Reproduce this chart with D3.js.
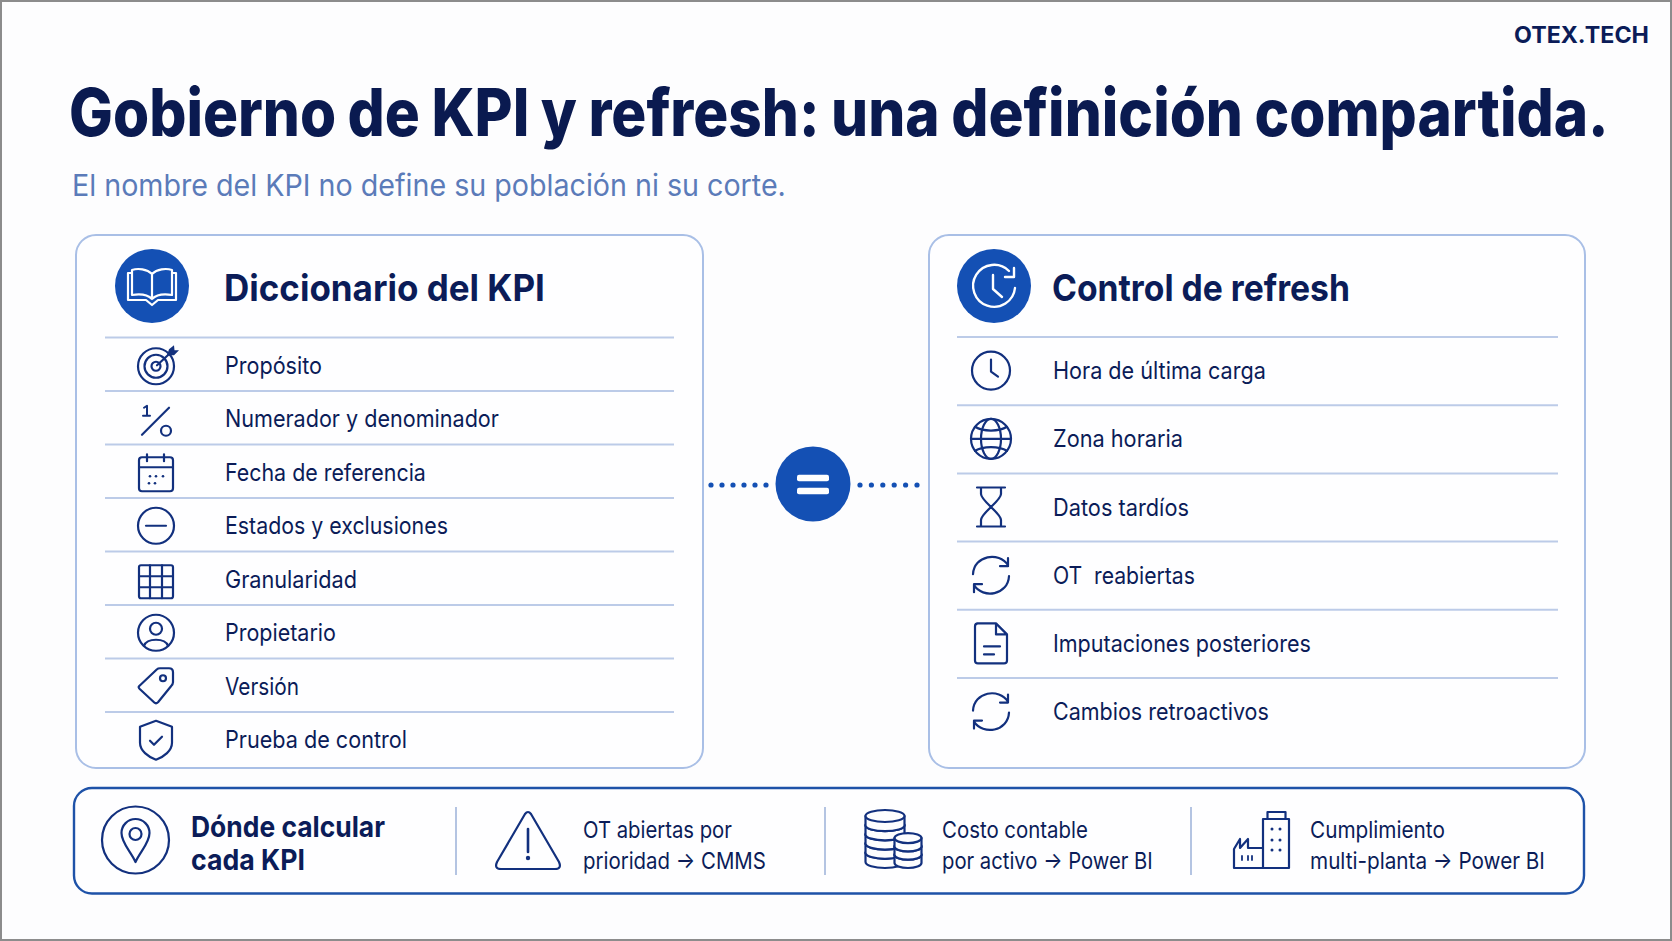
<!DOCTYPE html>
<html>
<head>
<meta charset="utf-8">
<script src="https://cdn.jsdelivr.net/npm/d3@7"></script>
<style>
  html, body { margin: 0; padding: 0; background: #fff; overflow: hidden; }
  text { font-family: Inter, "Noto Sans", sans-serif; }
</style>
</head>
<body>
<div id="slide"></div>
<script>
// texts
var brand = "OTEX.TECH";
var title = "Gobierno de KPI y refresh: una definición compartida.";
var subtitle = "El nombre del KPI no define su población ni su corte.";
var leftTitle = "Diccionario del KPI";
var rightTitle = "Control de refresh";
var leftRows = ["Propósito", "Numerador y denominador", "Fecha de referencia", "Estados y exclusiones", "Granularidad", "Propietario", "Versión", "Prueba de control"];
var leftIcons = ["target", "fraction", "calendar", "minus", "grid", "user", "tag", "shield"];
var rightRows = ["Hora de última carga", "Zona horaria", "Datos tardíos", "OT  reabiertas", "Imputaciones posteriores", "Cambios retroactivos"];
var rightIcons = ["clock", "globe", "hourglass", "sync", "doc", "sync"];
var stripHead = ["Dónde calcular", "cada KPI"];
var stripItems = [["OT abiertas por", "prioridad → CMMS"], ["Costo contable", "por activo → Power BI"], ["Cumplimiento", "multi-planta → Power BI"]];

// measured text widths in the picture, the fonts here run wider
var leftWidths = [97, 274, 201, 223, 132, 111, 74, 182];
var rightWidths = [213, 130, 136, 142, 258, 216];
var stripHeadWidths = [194, 114];
var stripWidths = [[149, 183], [146, 211], [135, 235]];

var navy = "#0b1c58", ink = "#12307e", blue = "#1450b4", rule = "#bccbe8", edge = "#a9bfe6", paper = "#fdfdfe";

var svg = d3.select("#slide").append("svg")
  .attr("width", 1672).attr("height", 941)
  .style("display", "block");

svg.append("rect").attr("x", 1).attr("y", 1).attr("width", 1670).attr("height", 939)
  .attr("fill", paper).attr("stroke", "#8c8c8c").attr("stroke-width", 2);

// squeeze the text sideways to the width it has in the picture
function label(g, str, x, y, size, weight, color, w) {
  var t = g.append("text")
    .attr("font-size", size).attr("font-weight", weight).attr("fill", color)
    .style("white-space", "pre")
    .text(str);
  return fit(t, x, y, w);
}
function fit(t, x, y, w) {
  var natural = t.node().getComputedTextLength();
  return t.attr("transform", "translate(" + x + "," + y + ") scale(" + (w / natural) + ",1)");
}

// icons are drawn round 0,0
function line(g, d, color, sw) {
  return g.append("path").attr("d", d).attr("fill", "none")
    .attr("stroke", color || ink).attr("stroke-width", sw || 2.2)
    .attr("stroke-linecap", "round").attr("stroke-linejoin", "round");
}
function ring(g, x, y, r, color, sw) {
  return g.append("circle").attr("cx", x).attr("cy", y).attr("r", r).attr("fill", "none")
    .attr("stroke", color || ink).attr("stroke-width", sw || 2.2);
}
function dot(g, x, y, r, color) {
  return g.append("circle").attr("cx", x).attr("cy", y).attr("r", r).attr("fill", color || ink);
}

var icons = {
  target: function(g) {
    ring(g, 0, 1, 18); ring(g, 0, 1, 11.5); ring(g, 0, 1, 4.5);
    line(g, "M1 0L14 -12");
    g.append("path").attr("d", "M11 -10L13 -16L18 -20L18.5 -15L23 -15L18 -10Z").attr("fill", ink);
  },
  fraction: function(g) {
    line(g, "M-14 16L13 -11");
    ring(g, 10, 12, 5);
    line(g, "M-12 -11L-9 -13V-3M-13 -3H-6", ink, 2);
  },
  calendar: function(g) {
    g.append("rect").attr("x", -17).attr("y", -15).attr("width", 34).attr("height", 34).attr("rx", 3)
      .attr("fill", "none").attr("stroke", ink).attr("stroke-width", 2.2);
    line(g, "M-17 -5H17M-9 -18V-11M8 -18V-11");
    [[-6, 4], [0, 4], [7, 4], [-7, 11], [-1, 11]].forEach(function(p) { dot(g, p[0], p[1], 1.3); });
  },
  minus: function(g) {
    ring(g, 0, 0, 18);
    line(g, "M-10 0H10");
  },
  grid: function(g) {
    g.append("rect").attr("x", -17).attr("y", -14).attr("width", 34).attr("height", 33).attr("rx", 2)
      .attr("fill", "none").attr("stroke", ink).attr("stroke-width", 2.2);
    line(g, "M-6 -14V19M6 -14V19M-17 -3H17M-17 8H17");
  },
  user: function(g) {
    ring(g, 0, 0, 18);
    ring(g, 0, -4, 6);
    line(g, "M-12 13C-9 5 9 5 12 13");
  },
  tag: function(g) {
    line(g, "M-17 0L1 -17Q2 -18 4 -18H13Q17 -18 17 -14V-4Q17 -2 15 0L2 16Q0 18 -2 16L-16 3Q-18 1 -17 0Z");
    ring(g, 7, -8, 3);
  },
  shield: function(g) {
    line(g, "M0 -19L16 -13V3C16 11 8 17 0 20C-8 17 -16 11 -16 3V-13Z");
    line(g, "M-6 1L-2 5L6 -3");
  },
  clock: function(g) {
    ring(g, 0, 0, 19);
    line(g, "M0 -11V1L7 6");
  },
  globe: function(g) {
    ring(g, 0, 0, 20);
    g.append("ellipse").attr("rx", 10).attr("ry", 20).attr("fill", "none").attr("stroke", ink).attr("stroke-width", 2.2);
    line(g, "M-20 0H20M-16 -12C-8 -7 8 -7 16 -12M-16 12C-8 7 8 7 16 12");
  },
  hourglass: function(g) {
    line(g, "M-14 -19.5H14M-14 19.5H14M-10 -19V-13C-10 -6 10 6 10 13V19M10 -19V-13C10 -6 -10 6 -10 13V19");
  },
  sync: function(g) {
    line(g, "M-18 -1C-17 -20 8 -24 17 -10M17 -17V-9H9");
    line(g, "M18 1C17 20 -8 24 -17 10M-17 17V9H-9");
  },
  doc: function(g) {
    line(g, "M-14 -20H5L16 -9V17Q16 20 13 20H-13Q-16 20 -16 17V-17Q-16 -20 -13 -20ZM5 -20V-9H16");
    line(g, "M-7 3H9M-7 11H3");
  },
  book: function(g) {
    var w = "#fff";
    line(g, "M0 -12C-5 -17 -14 -18 -20 -16V9C-14 8 -5 8 0 13C5 8 14 8 20 9V-16C14 -18 5 -17 0 -12ZM0 -12V13", w, 2.2);
    line(g, "M-20 -13H-24V14H-6L0 19L6 14H24V-13H20", w, 2.2);
  },
  refreshClock: function(g) {
    var w = "#fff";
    line(g, "M15 -15A21 21 0 1 0 21 2", w, 2.4);
    line(g, "M20 -18V-9H11", w, 2.4);
    line(g, "M-1 -11V3L8 11", w, 2.4);
  },
  pin: function(g) {
    ring(g, 0, 0, 33.5);
    line(g, "M0 22C-5 11 -14 3 -14 -7A14 14 0 0 1 14 -7C14 3 5 11 0 22Z");
    ring(g, 0, -6, 6);
  },
  warning: function(g) {
    line(g, "M-3 -26Q0 -30 3 -26L31 22Q34 29 27 29H-27Q-34 29 -31 22Z");
    line(g, "M0 -11V12", ink, 2.6);
    dot(g, 0, 18, 2.2);
  },
  coins: function(g) {
    // layers go bottom first so each one hides the back of the one below
    function stack(cx, rx, ry, base, n, h) {
      d3.range(n).forEach(function(i) {
        var bottom = base - i * h, top = bottom - h;
        g.append("path")
          .attr("d", "M" + (cx - rx) + " " + top + "V" + bottom + "A" + rx + " " + ry + " 0 0 0 " + (cx + rx) + " " + bottom + "V" + top + "Z")
          .attr("fill", paper).attr("stroke", ink).attr("stroke-width", 2.2).attr("stroke-linejoin", "round");
        g.append("ellipse").attr("cx", cx).attr("cy", top).attr("rx", rx).attr("ry", ry)
          .attr("fill", paper).attr("stroke", ink).attr("stroke-width", 2.2);
      });
    }
    stack(2, 19.5, 6, 23, 5, 9.2);
    stack(25, 13.5, 5, 24, 3, 8.3);
  },
  factory: function(g) {
    line(g, "M2 28V-21H28V28ZM6.5 -21V-28H24.5V-21");
    line(g, "M-27 28V9L-21 -1V8L-13 -1V8H2M-27 28H2");
    [[11, -11], [19, -11], [11, 0], [19, 0], [11, 10], [19, 10]].forEach(function(p) { dot(g, p[0], p[1], 1.5); });
    line(g, "M-19 16V20M-13 16V20M-9 16V20", ink, 1.8);
  }
};

function icon(name, x, y) {
  var g = svg.append("g").attr("transform", "translate(" + x + "," + y + ")");
  icons[name](g);
}

// heading
label(svg, brand, 1514, 43, 23, 700, navy, 135);
var titleText = svg.append("text")
  .attr("font-size", 66).attr("font-weight", 800).attr("fill", "#0a1a50")
  .style("word-spacing", "-1.5px")
  .text(title);
fit(titleText, 69, 136, 1540);
label(svg, subtitle, 72, 196, 30, 400, "#5b7bb9", 714);

// one panel of the comparison
function panel(o) {
  svg.append("rect").attr("x", o.x).attr("y", 235).attr("width", o.w).attr("height", 533).attr("rx", 20)
    .attr("fill", "#fefeff").attr("stroke", edge).attr("stroke-width", 2);
  svg.append("circle").attr("cx", o.cx).attr("cy", 286).attr("r", 37).attr("fill", blue);
  icon(o.headIcon, o.cx, 286);
  label(svg, o.title, o.textX - 1, 300.5, 37, 700, navy, o.titleW);

  var y = d3.scaleBand().domain(o.rows).range([o.y0, o.y0 + o.step * o.rows.length]);
  o.rows.forEach(function(r, i) {
    svg.append("line").attr("x1", o.ruleX[0]).attr("x2", o.ruleX[1])
      .attr("y1", y(r)).attr("y2", y(r))
      .attr("stroke", rule).attr("stroke-width", 2);
    var mid = y(r) + y.bandwidth() / 2 + o.nudge;
    icon(o.icons[i], o.iconX, mid);
    label(svg, r, o.textX, mid + 8.5, 24, 400, navy, o.widths[i]);
  });
}

panel({ x: 76, w: 627, cx: 152, headIcon: "book", title: leftTitle, titleW: 321, textX: 225, iconX: 156,
  rows: leftRows, icons: leftIcons, widths: leftWidths, y0: 337.5, step: 53.5, nudge: 1, ruleX: [105, 674] });
panel({ x: 929, w: 656, cx: 994, headIcon: "refreshClock", title: rightTitle, titleW: 298, textX: 1053, iconX: 991,
  rows: rightRows, icons: rightIcons, widths: rightWidths, y0: 337, step: 68.2, nudge: -0.5, ruleX: [957, 1558] });

// equals badge with the dotted links
var dotsX = d3.scalePoint().domain(d3.range(6)).range([711, 766]);
var dotsX2 = d3.scalePoint().domain(d3.range(6)).range([860, 917]);
d3.range(6).forEach(function(i) {
  dot(svg, dotsX(i), 485, 2.6, blue);
  dot(svg, dotsX2(i), 485, 2.6, blue);
});
svg.append("circle").attr("cx", 813).attr("cy", 484).attr("r", 37.5).attr("fill", blue);
[478, 491].forEach(function(yy) {
  svg.append("rect").attr("x", 797).attr("y", yy - 3.2).attr("width", 32).attr("height", 6.4).attr("rx", 2).attr("fill", "#fff");
});

// bottom strip
svg.append("rect").attr("x", 74).attr("y", 788).attr("width", 1510).attr("height", 105.5).attr("rx", 18)
  .attr("fill", "#fefeff").attr("stroke", "#1e52a8").attr("stroke-width", 2.4);
[456, 825, 1191].forEach(function(x) {
  svg.append("line").attr("x1", x).attr("x2", x).attr("y1", 807).attr("y2", 875)
    .attr("stroke", "#b4c4e2").attr("stroke-width", 2);
});
icon("pin", 135.5, 840);
label(svg, stripHead[0], 191, 837, 29, 700, navy, stripHeadWidths[0]);
label(svg, stripHead[1], 191, 870, 29, 700, navy, stripHeadWidths[1]);

var stripIcons = [["warning", 528, 840], ["coins", 883, 839], ["factory", 1261, 840]];
var stripTextX = [583, 942, 1310];
stripItems.forEach(function(item, i) {
  icon(stripIcons[i][0], stripIcons[i][1], stripIcons[i][2]);
  label(svg, item[0], stripTextX[i], 838, 23, 400, navy, stripWidths[i][0]);
  label(svg, item[1], stripTextX[i], 869, 23, 400, navy, stripWidths[i][1]);
});
</script>
</body>
</html>
